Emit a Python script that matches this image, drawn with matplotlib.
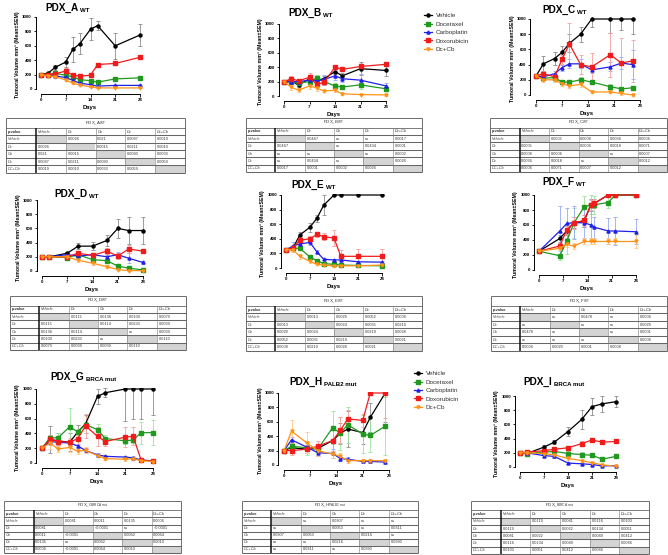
import matplotlib
matplotlib.use("Agg")
import matplotlib.pyplot as plt
from matplotlib.lines import Line2D
from matplotlib.patches import Rectangle

W, H = 668, 555
plt.rcParams["font.family"] = ["Liberation Sans", "DejaVu Sans"]
plt.rcParams["mathtext.fontset"] = "custom"
plt.rcParams["mathtext.rm"] = "Liberation Sans"
plt.rcParams["mathtext.bf"] = "Liberation Sans:bold"
plt.rcParams["mathtext.it"] = "Liberation Sans:italic"

series = ["Vehicle", "Docetaxel", "Carboplatin", "Doxorubicin", "Dc+Cb"]
colors = ["#000000", "#1f9a1f", "#2020e8", "#f01c1c", "#ff9218"]
err_colors = ["#8c8c8c", "#9ee39e", "#98a8f5", "#f5a0a0", "#ffc98a"]
markers = ["o", "s", "^", "s", "v"]

col_labels = ["p-value", "Vehicle", "Dc", "Cb", "Dx", "Dc+Cb"]
row_labels = ["Vehicle", "Dc", "Cb", "Dx", "DC+Cb"]

# ---- PDX_A WT
A_days = [0, 2, 4, 7, 9, 11, 14, 16, 21, 28]
A_mean = [[200, 220, 300, 375, 550, 630, 830, 880, 600, 750],
          [200, 200, 220, 190, 170, 130, 115, 95, 140, 155],
          [200, 190, 180, 160, 120, 80, 60, 40, 50, 50],
          [200, 195, 210, 250, 190, 180, 190, 340, 355, 440],
          [200, 185, 170, 125, 80, 55, 30, 15, 15, 15]]
A_sem = [[0, 20, 30, 70, 170, 150, 150, 60, 180, 150],
         [0, 15, 20, 20, 25, 20, 20, 20, 25, 20],
         [0, 15, 15, 15, 15, 10, 10, 8, 8, 8],
         [0, 15, 20, 40, 30, 25, 30, 25, 20, 15],
         [0, 15, 15, 15, 10, 10, 8, 5, 5, 5]]
A_p = [[None, "0.0026", "0.021", "0.0087", "0.0019"],
       ["0.0026", None, "0.0015", "0.0211", "0.0010"],
       ["0.021", "0.0015", None, "0.0090", "0.0033"],
       ["0.0087", "0.0211", "0.0090", None, "0.0059"],
       ["0.0019", "0.0010", "0.0033", "0.0059", None]]

# ---- PDX_B WT
B_days = [0, 2, 4, 7, 9, 11, 14, 16, 21, 28]
B_mean = [[200, 210, 150, 240, 220, 240, 340, 280, 380, 355],
          [200, 190, 180, 200, 250, 200, 140, 125, 155, 100],
          [200, 200, 200, 220, 210, 230, 280, 240, 220, 140],
          [200, 240, 210, 260, 160, 190, 400, 370, 410, 440],
          [200, 120, 80, 140, 110, 70, 80, 30, 20, 15]]
B_sem = [[0, 30, 30, 40, 40, 40, 40, 40, 90, 80],
         [0, 30, 40, 40, 40, 40, 40, 30, 60, 30],
         [0, 30, 30, 40, 40, 60, 60, 40, 80, 40],
         [0, 40, 30, 60, 40, 40, 30, 20, 20, 20],
         [0, 40, 30, 40, 40, 20, 30, 10, 10, 10]]
B_p = [[None, "0.0467", "ns", "ns", "0.0017"],
       ["0.0467", None, "ns", "0.0434", "0.0001"],
       ["ns", "ns", None, "ns", "0.0002"],
       ["ns", "0.0434", "ns", None, "0.0026"],
       ["0.0017", "0.0001", "0.0002", "0.0026", None]]

# ---- PDX_C WT
C_days = [0, 2, 5, 7, 9, 12, 15, 20, 23, 26]
C_mean = [[250, 410, 480, 560, 680, 800, 1000, 1000, 1000, 1000],
          [250, 220, 230, 170, 170, 200, 170, 110, 80, 95],
          [250, 240, 280, 360, 410, 410, 330, 370, 420, 400],
          [250, 280, 240, 470, 670, 400, 370, 530, 420, 450],
          [250, 200, 200, 150, 120, 140, 40, 40, 20, 0]]
C_sem = [[0, 100, 80, 80, 120, 100, 100, 180, 150, 200],
         [0, 30, 40, 30, 30, 40, 30, 30, 30, 30],
         [0, 30, 40, 40, 60, 60, 40, 60, 80, 190],
         [0, 40, 30, 60, 280, 120, 180, 290, 330, 280],
         [0, 30, 30, 30, 30, 30, 20, 20, 15, 10]]
C_p = [[None, "0.0005", "0.0008", "0.0036", "0.0006"],
       ["0.0005", None, "0.0006", "0.0018", "0.0071"],
       ["0.0008", "0.0006", None, "ns", "0.0007"],
       ["0.0036", "0.0018", "ns", None, "0.0012"],
       ["0.0006", "0.0071", "0.0007", "0.0012", None]]

# ---- PDX_D WT
D_days = [0, 2, 7, 10, 14, 18, 21, 24, 28]
D_mean = [[200, 200, 250, 350, 350, 430, 600, 570, 570],
          [200, 200, 190, 230, 160, 145, 70, 40, 15],
          [200, 200, 230, 210, 230, 200, 230, 180, 120],
          [200, 200, 200, 250, 220, 280, 210, 310, 280],
          [200, 200, 200, 150, 110, 60, 20, 5, 5]]
D_sem = [[0, 0, 20, 40, 60, 80, 130, 190, 190],
         [0, 0, 20, 20, 20, 20, 15, 10, 5],
         [0, 0, 20, 30, 20, 30, 40, 70, 20],
         [0, 0, 20, 30, 30, 40, 40, 60, 30],
         [0, 0, 20, 30, 30, 20, 10, 5, 5]]
D_p = [[None, "0.0115", "0.0136", "0.0100", "0.0079"],
       ["0.0115", None, "0.0114", "0.0233", "0.0039"],
       ["0.0136", "0.0114", None, "ns", "0.0039"],
       ["0.0100", "0.0233", "ns", None, "0.0110"],
       ["0.0079", "0.0039", "0.0039", "0.0110", None]]

# ---- PDX_E WT
E_days = [0, 2, 4, 7, 9, 11, 14, 16, 21, 28]
E_mean = [[250, 270, 450, 560, 680, 860, 1000, 1000, 1000, 1000],
          [250, 270, 270, 150, 100, 60, 50, 40, 35, 30],
          [250, 300, 330, 350, 220, 120, 110, 110, 85, 80],
          [250, 270, 380, 400, 460, 430, 410, 160, 160, 160],
          [250, 250, 160, 90, 50, 40, 30, 30, 30, 40]]
E_sem = [[0, 30, 50, 60, 50, 140, 0, 0, 0, 0],
         [0, 30, 30, 30, 20, 10, 10, 10, 10, 10],
         [0, 60, 30, 30, 20, 15, 10, 10, 10, 10],
         [0, 30, 40, 40, 30, 50, 110, 90, 100, 100],
         [0, 30, 30, 20, 15, 10, 10, 10, 10, 10]]
E_p = [[None, "0.0013", "0.0029", "0.0052", "0.0008"],
       ["0.0013", None, "0.0024", "0.0035", "0.0210"],
       ["0.0029", "0.0024", None, "0.0219", "0.0028"],
       ["0.0052", "0.0035", "0.0219", None, "0.0021"],
       ["0.0008", "0.0210", "0.0028", "0.0021", None]]

# ---- PDX_F WT
F_days = [0, 6, 8, 10, 13, 15, 16, 20, 22, 28]
F_mean = [[250, 420, 520, 630, 650, 870, 890, 1000, 1000, 1000],
          [250, 190, 380, 620, 840, 870, 870, 900, 1000, 1000],
          [250, 520, 620, 630, 630, 600, 570, 520, 520, 510],
          [250, 320, 530, 630, 660, 870, 890, 1000, 1000, 1000],
          [250, 290, 340, 320, 380, 380, 380, 380, 380, 380]]
F_sem = [[0, 50, 60, 70, 80, 80, 60, 0, 0, 0],
         [0, 60, 170, 200, 150, 130, 120, 80, 0, 0],
         [0, 330, 200, 220, 200, 180, 140, 170, 190, 170],
         [0, 40, 50, 80, 70, 70, 60, 0, 0, 0],
         [0, 30, 30, 40, 40, 40, 40, 40, 40, 90]]
F_p = [[None, "ns", "0.0478", "ns", "0.0006"],
       ["ns", None, "ns", "ns", "0.0029"],
       ["0.0478", "ns", None, "ns", "0.0001"],
       ["ns", "ns", "ns", None, "0.0008"],
       ["0.0006", "0.0029", "0.0001", "0.0008", None]]

# ---- PDX_G BRCA mut
G_days = [0, 2, 4, 7, 9, 11, 14, 16, 21, 23, 25, 28]
G_mean = [[200, 320, 300, 280, 420, 530, 900, 950, 1000, 1000, 1000, 1000],
          [200, 340, 340, 490, 420, 520, 450, 330, 300, 310, 410, 410],
          [200, 290, 280, 270, 230, 170, 110, 90, 80, 70, 40, 30],
          [200, 320, 290, 280, 330, 500, 360, 290, 350, 360, 40, 25],
          [200, 270, 190, 210, 160, 170, 100, 60, 50, 60, 30, 20]]
G_sem = [[0, 180, 100, 120, 100, 120, 100, 60, 430, 400, 400, 350],
         [0, 40, 60, 250, 40, 120, 80, 50, 40, 40, 150, 170],
         [0, 40, 40, 40, 30, 30, 30, 20, 20, 20, 10, 10],
         [0, 60, 60, 60, 80, 160, 130, 60, 130, 120, 20, 10],
         [0, 80, 40, 60, 40, 40, 20, 20, 20, 20, 10, 10]]
G_p = [[None, "0.0081", "0.0011", "0.0135", "0.0006"],
       ["0.0081", None, "<0.0001", "ns", "<0.0001"],
       ["0.0011", "<0.0001", None, "0.0062", "0.0064"],
       ["0.0135", "ns", "0.0062", None, "0.0010"],
       ["0.0006", "<0.0001", "0.0064", "0.0010", None]]

# ---- PDX_H PALB2 mut
H_days = [0, 2, 6, 9, 13, 15, 17, 21, 23, 27]
H_mean = [[200, 240, 220, 230, 340, 440, 500, 450, 660, 1000],
          [200, 260, 240, 220, 520, 440, 560, 430, 410, 540],
          [200, 350, 250, 170, 160, 90, 80, 50, 50, 40],
          [200, 200, 220, 260, 340, 480, 640, 620, 1000, 1000],
          [200, 470, 310, 200, 150, 120, 60, 60, 60, 60]]
H_sem = [[0, 60, 60, 60, 150, 150, 250, 160, 200, 400],
         [0, 80, 100, 60, 230, 230, 250, 260, 230, 400],
         [0, 40, 60, 40, 60, 30, 30, 20, 20, 20],
         [0, 60, 60, 80, 150, 180, 130, 90, 0, 350],
         [0, 160, 150, 80, 50, 40, 30, 20, 30, 30]]
H_p = [[None, "ns", "0.0307", "ns", "ns"],
       ["ns", None, "0.0053", "ns", "0.0311"],
       ["0.0307", "0.0053", None, "0.0216", "ns"],
       ["ns", "ns", "0.0216", None, "0.0390"],
       ["ns", "0.0311", "ns", "0.0390", None]]

# ---- PDX_I BRCA mut
I_days = [0, 2, 7, 10, 14, 18, 21, 24, 28]
I_mean = [[200, 190, 280, 350, 500, 670, 850, 890, 920],
          [200, 190, 210, 220, 190, 175, 165, 110, 150],
          [200, 200, 160, 150, 55, 45, 35, 15, 20],
          [200, 210, 230, 250, 270, 330, 380, 350, 360],
          [200, 200, 190, 170, 120, 90, 60, 30, 10]]
I_sem = [[0, 20, 30, 30, 60, 130, 120, 110, 80],
         [0, 20, 20, 20, 30, 30, 30, 30, 30],
         [0, 20, 20, 20, 10, 10, 10, 5, 10],
         [0, 20, 20, 20, 30, 30, 30, 30, 20],
         [0, 20, 20, 20, 15, 15, 10, 10, 5]]
I_p = [[None, "0.0119", "0.0081", "0.0116", "0.0103"],
       ["0.0119", None, "0.0022", "0.0134", "0.0051"],
       ["0.0081", "0.0022", None, "0.0049", "0.0412"],
       ["0.0116", "0.0134", "0.0049", None, "0.0086"],
       ["0.0103", "0.0051", "0.0412", "0.0086", None]]

fig = plt.figure(figsize=(W / 100, H / 100), dpi=100)
fig.patch.set_facecolor("white")

XMIN, XMAX, YMIN, YMAX = -1.5, 29.0, -70, 1020


def draw_panel(days, means, sems, box, name, sub, title_xy):
    x0, x28, y1000, y0 = box
    ppd = (x28 - x0) / 28.0
    ppv = (y0 - y1000) / 1000.0
    left = x0 + XMIN * ppd
    right = x0 + XMAX * ppd
    top = y0 - YMAX * ppv
    bottom = y0 - YMIN * ppv
    ax = fig.add_axes([left / W, 1 - bottom / H, (right - left) / W, (bottom - top) / H])
    for i in range(5):
        ax.errorbar(days, means[i], yerr=sems[i], fmt="none", ecolor=err_colors[i],
                    elinewidth=0.6, capsize=1.3, capthick=0.6, zorder=1)
    for i in range(5):
        ax.plot(days, means[i], color=colors[i], marker=markers[i], ms=2.2, lw=0.9, zorder=2)
    ax.set_xlim(XMIN, XMAX)
    ax.set_ylim(YMIN, YMAX)
    ax.set_xticks([0, 7, 14, 21, 28])
    ax.set_yticks([0, 200, 400, 600, 800, 1000])
    ax.spines["top"].set_visible(False)
    ax.spines["right"].set_visible(False)
    ax.spines["left"].set_bounds(0, 1000)
    ax.spines["bottom"].set_bounds(0, 28)
    for s in ("left", "bottom"):
        ax.spines[s].set_linewidth(0.7)
    ax.tick_params(length=1.8, width=0.6, pad=1, labelsize=3.2)
    for lab in ax.get_xticklabels() + ax.get_yticklabels():
        lab.set_fontweight("bold")
    ax.set_xlabel("Days", fontsize=4.2, fontweight="bold", labelpad=2)
    ax.set_ylabel("Tumoral Volume mm³ (Mean±SEM)", fontsize=3.8, fontweight="bold", labelpad=1.5)
    ax.patch.set_alpha(0)
    tx, ty = title_xy
    t = fig.text(tx / W, 1 - ty / H, name, fontsize=7.2, fontweight="bold", ha="left", va="center")
    ax.annotate(sub, xy=(1, 0), xycoords=t, xytext=(1.5, -0.3), textcoords="offset points",
                fontsize=4.4, fontweight="bold", ha="left", va="bottom", annotation_clip=False)
    return ax


def draw_table(box, name, sub, pvals):
    x1, y1, x2, y2 = box
    ax = fig.add_axes([x1 / W, 1 - y2 / H, (x2 - x1) / W, (y2 - y1) / H])
    th = 1.3
    total = th + 6
    ax.set_xlim(0, 6)
    ax.set_ylim(total, 0)
    ax.axis("off")
    for r in range(5):
        ax.add_patch(Rectangle((r + 1, th + 1 + r), 1, 1, color="#d4d4d4", lw=0))
    kw = dict(clip_on=False, solid_capstyle="butt")
    # horizontal lines
    ax.plot([0, 6], [0, 0], color="#555555", lw=0.6, **kw)
    for k in range(7):
        y = th + k
        ax.plot([0, 6], [y, y], color="#666666", lw=0.75 if k > 0 else 0.6, **kw)
    # vertical lines
    ax.plot([0, 0], [0, total], color="#555555", lw=0.6, **kw)
    ax.plot([6, 6], [0, total], color="#555555", lw=0.6, **kw)
    for c in range(1, 6):
        ax.plot([c, c], [th, total], color="#111111" if c == 1 else "#777777",
                lw=1.1 if c == 1 else 0.4, **kw)
    ax.text(3, th / 2, name + "$_{\\mathrm{" + sub.replace(" ", "\\ ") + "}}$",
            fontsize=3.2, ha="center", va="center", color="#333333")
    for c, lab in enumerate(col_labels):
        ax.text(c + 0.06, th + 0.5, lab, fontsize=2.8, ha="left", va="center", color="#333333",
                fontweight="bold" if c == 0 else "normal", style="normal" if c == 0 else "italic")
    for r in range(5):
        ax.text(0.06, th + 1.5 + r, row_labels[r], fontsize=2.8, ha="left", va="center",
                color="#444444", style="italic")
        for c in range(5):
            v = pvals[r][c]
            if v is not None:
                ax.text(c + 1.06, th + 1.5 + r, v, fontsize=2.8, ha="left", va="center",
                        color="#333333")


panels = [
    (A_days, A_mean, A_sem, A_p, (41, 140, 17, 89), "PDX_A", "WT", (45, 8), (6, 118, 185, 173)),
    (B_days, B_mean, B_sem, B_p, (284, 386, 24, 96), "PDX_B", "WT", (288, 13), (246, 118, 422, 172)),
    (C_days, C_mean, C_sem, C_p, (536, 640, 19, 95), "PDX_C", "WT", (542, 10), (490, 118, 667, 172)),
    (D_days, D_mean, D_sem, D_p, (42, 143, 200, 271), "PDX_D", "WT", (54, 194), (10, 296, 186, 350)),
    (E_days, E_mean, E_sem, E_p, (286, 382, 195, 268), "PDX_E", "WT", (291, 185), (246, 296, 422, 351)),
    (F_days, F_mean, F_sem, F_p, (539, 636, 195, 270), "PDX_F", "WT", (542, 182), (491, 296, 667, 351)),
    (G_days, G_mean, G_sem, G_p, (42, 153, 389, 463), "PDX_G", "BRCA mut", (50, 377), (4, 501, 181, 553)),
    (H_days, H_mean, H_sem, H_p, (284, 389, 393, 465), "PDX_H", "PALB2 mut", (289, 382), (242, 501, 418, 553)),
    (I_days, I_mean, I_sem, I_p, (520, 616, 396, 467), "PDX_I", "BRCA mut", (523, 382), (471, 501, 649, 554)),
]

for days, means, sems, pv, box, name, sub, txy, tbox in panels:
    draw_panel(days, means, sems, box, name, sub, txy)
    draw_table(tbox, name, sub, pv)

handles = [Line2D([], [], color=colors[i], marker=markers[i], ms=2.2, lw=0.9) for i in range(5)]
for lx, ly in [(424, 13), (414, 371)]:
    fig.legend(handles, series, loc="upper left", bbox_to_anchor=(lx / W, 1 - ly / H),
               frameon=False, fontsize=4.6, handlelength=1.3, handletextpad=0.5,
               labelspacing=0.45, borderpad=0, borderaxespad=0, labelcolor="#333333")

fig.savefig("out.png", dpi=100, facecolor="white")
